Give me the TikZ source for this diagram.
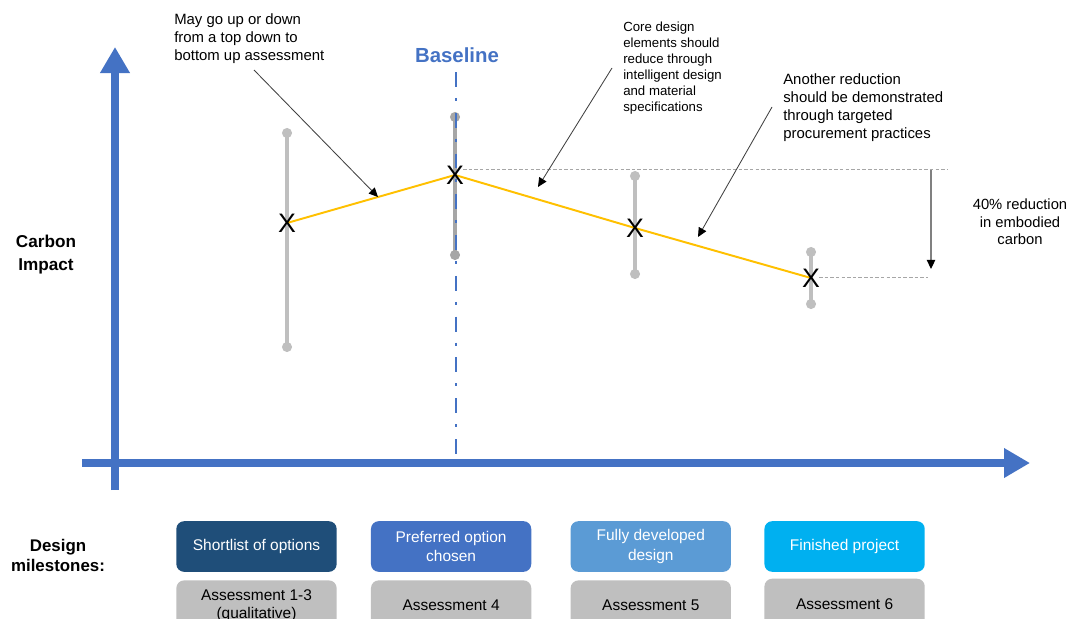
\documentclass[tikz,border=0pt]{standalone}
\usepackage{fontspec}
\setmainfont{Liberation Sans}
\usepackage{xcolor}
\usepackage{tikz}
\usetikzlibrary{arrows.meta, positioning, calc}
\definecolor{axisblue}{RGB}{68, 114, 196}
\definecolor{navyblue}{RGB}{31, 78, 121}
\definecolor{midblue}{RGB}{91, 155, 213}
\definecolor{skyblue}{RGB}{0, 176, 240}
\definecolor{bargray}{RGB}{191, 191, 191}
\definecolor{darkbar}{RGB}{166, 166, 166}
\definecolor{trendyellow}{RGB}{255, 192, 0}
\definecolor{notegray}{RGB}{64, 64, 64}
\tikzset{
    axis/.style={line width=6pt, color=axisblue,
                 -{Triangle[width=20pt, length=18.5pt]}},
    range/.style={line width=2.8pt, color=#1},
    trend/.style={line width=1.4pt, color=trendyellow},
    crossmark/.style={inner sep=0pt, font=\fontsize{19}{19}\selectfont},
    guide/.style={line width=0.5pt, color=gray!70,
                  dash pattern=on 2.5pt off 1.5pt},
    pointer/.style={line width=0.6pt, color=notegray,
                    -{Triangle[width=6pt, length=6.5pt, black]}},
    note/.style={anchor=north west, inner sep=0pt, align=left,
                 font=\fontsize{10.6}{12.8}\selectfont},
    milestone/.style={rectangle, rounded corners=5.5pt, minimum width=114pt,
                      minimum height=36pt, fill=#1, text=white, align=center,
                      font=\fontsize{11}{14}\selectfont, inner sep=2pt},
    assess/.style={rectangle, rounded corners=5.5pt, minimum width=114pt,
                   minimum height=36pt, fill=bargray, text=black, align=center,
                   font=\fontsize{11}{13}\selectfont, inner sep=2pt},
}

\begin{document}
\begin{tikzpicture}[x=0.025cm, y=-0.025cm]
    \useasboundingbox (0,0) rectangle (1069,618);

    % Axes
    \coordinate (yfoot) at (115,490);
    \coordinate (ytip) at (115,47);
    \coordinate (xfoot) at (82,463);
    \coordinate (xtip) at (1030,463);
    \draw[axis] (yfoot) -- (ytip);
    \draw[axis] (xfoot) -- (xtip);

    % Ranges of each assessment
    \foreach \n/\px/\top/\bot/\col in {1/287/133/347/bargray,
                                        2/455/117/255/darkbar,
                                        3/635/176/274/bargray,
                                        4/811/252/304/bargray}{
        \coordinate (t\n) at (\px,\top);
        \coordinate (b\n) at (\px,\bot);
        \draw[range=\col] (t\n) -- (b\n);
        \fill[\col] (t\n) circle (3.6pt) (b\n) circle (3.6pt);
    }

    % Baseline
    \coordinate (btop) at (456,72);
    \coordinate (bfoot) at (456,459);
    \draw[axisblue, line width=2.1pt,
          dash pattern=on 10.6pt off 7.8pt on 2.1pt off 8.5pt] (btop) -- (bfoot);
    \node[font=\fontsize{14.5}{14.5}\selectfont\bfseries, text=axisblue]
        (baseline) at (457,55) {Baseline};

    % Carbon trend
    \coordinate (p1) at (287,223);
    \coordinate (p2) at (455,175);
    \coordinate (p3) at (635,228);
    \coordinate (p4) at (811,278);
    \draw[trend] (p1) -- (p2) -- (p3) -- (p4);
    \foreach \n in {1,...,4}
        \node[crossmark] (x\n) at (p\n) {X};

    % 40% drop
    \coordinate (g1) at (463,169);
    \coordinate (g2) at (948,169);
    \coordinate (g3) at (819,277);
    \coordinate (g4) at (928,277);
    \draw[guide] (g1) -- (g2);
    \draw[guide] (g3) -- (g4);
    \coordinate (drop) at (931,170);
    \coordinate (dropend) at (931,269);
    \draw[line width=0.8pt, gray, -{Triangle[width=6pt, length=6.5pt, black]}]
        (drop) -- (dropend);
    \node[align=center, font=\fontsize{10.5}{12.4}\selectfont]
        (reduction) at (1020,222) {40\% reduction\\in embodied\\carbon};

    % Notes
    \node[note] (upordown) at (174,13)
        {May go up or down\\from a top down to\\bottom up assessment};
    \node[note, font=\fontsize{9.4}{11.3}\selectfont] (coredesign) at (623,22)
        {Core design\\elements should\\reduce through\\intelligent design\\and material\\specifications};
    \node[note] (another) at (783,73)
        {Another reduction\\should be demonstrated\\through targeted\\procurement practices};
    \coordinate (n1) at (254,70);
    \coordinate (n1end) at (378,197);
    \coordinate (n2) at (612,68);
    \coordinate (n2end) at (538,187);
    \coordinate (n3) at (772,107);
    \coordinate (n3end) at (698,237);
    \draw[pointer] (n1) -- (n1end);
    \draw[pointer] (n2) -- (n2end);
    \draw[pointer] (n3) -- (n3end);

    % Axis titles
    \node[align=center, font=\fontsize{12.2}{16.3}\selectfont\bfseries]
        (impact) at (46,255) {Carbon\\Impact};
    \node[align=center, font=\fontsize{12}{14.2}\selectfont\bfseries]
        (milestones) at (58,555) {Design\\milestones:};

    % Milestone boxes
    \node[milestone=navyblue] (shortlist) at (256.5,546.5) {Shortlist of options};
    \node[milestone=axisblue, right=24pt of shortlist] (preferred)
        {Preferred option\\chosen};
    \node[milestone=midblue, right=27.6pt of preferred] (developed)
        {Fully developed\\design};
    \node[milestone=skyblue, right=23.4pt of developed] (finished)
        {Finished project};

    % Assessments
    \node[assess, below=5.7pt of shortlist] (as13) {Assessment 1-3\\(qualitative)};
    \node[assess, below=5.7pt of preferred] (as4) {Assessment 4};
    \node[assess, below=5.7pt of developed] (as5) {Assessment 5};
    \node[assess, below=4.5pt of finished] (as6) {Assessment 6};
\end{tikzpicture}
\end{document}
